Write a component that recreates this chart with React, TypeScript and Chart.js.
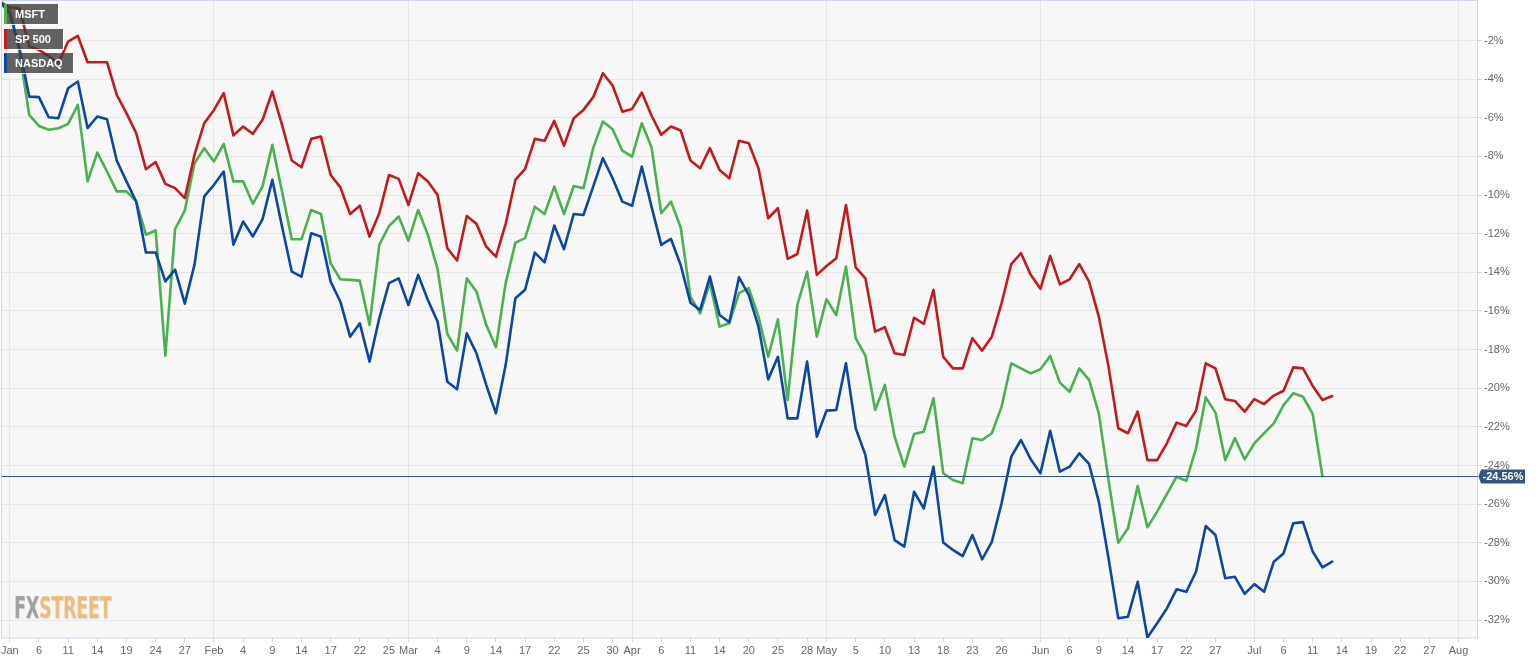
import React, { useEffect, useRef } from 'react';
import { Chart, registerables } from 'chart.js';

Chart.register(...registerables);

// Trading-day index: -1 = Dec 31 2021 (baseline 0%), 0 = Jan 3 2022, ...
const START_INDEX = -1;

const MSFT_VALUES = [
  0, -0.4, -2.6, -5.85, -6.42, -6.62, -6.54, -6.31, -5.33, -9.29, -7.8,
  -8.78, -9.81, -9.81, -10.33, -12.05, -11.83, -18.31, -11.76, -10.8, -8.35,
  -7.57, -8.26, -7.35, -9.29, -9.29, -10.45, -9.55, -7.4, -9.82, -12.29,
  -12.29, -10.77, -10.98, -13.53, -14.36, -14.39, -14.43, -16.72, -12.58, -11.6,
  -11.11, -12.36, -10.77, -12.06, -13.84, -17.19, -18.05, -14.31, -15.0, -16.72,
  -17.88, -14.56, -12.46, -12.23, -10.6, -10.98, -9.56, -10.98, -9.53, -9.65,
  -7.57, -6.19, -6.59, -7.7, -8.01, -6.28, -7.52, -10.94, -10.34, -11.68,
  -15.26, -16.12, -14.53, -16.81, -16.64, -15.08, -14.82, -16.29, -18.37, -16.43,
  -20.61, -15.69, -13.96, -17.33, -15.39, -16.21, -13.7, -17.41, -18.33, -21.13,
  -19.83, -22.51, -24.06, -22.37, -22.25, -20.52, -24.4, -24.75, -24.92, -22.59,
  -22.68, -22.33, -20.95, -18.71, -18.97, -19.23, -19.02, -18.33, -19.71, -20.18,
  -18.97, -19.57, -21.3, -24.75, -28.0, -27.25, -25.06, -27.2, -26.39, -25.48,
  -24.58, -24.79, -23.11, -20.47, -21.26, -23.72, -22.59, -23.68, -22.85, -22.33,
  -21.82, -20.87, -20.26, -20.44, -21.33, -24.56,
];

const SP500_VALUES = [
  0, -0.28, -0.33, -2.31, -2.48, -2.8, -3.17, -2.05, -1.76, -3.12, -3.12,
  -3.12, -4.81, -5.76, -6.79, -8.66, -8.29, -9.42, -9.64, -10.16, -7.91,
  -6.28, -5.59, -4.72, -6.91, -6.45, -6.83, -6.1, -4.64, -6.37, -8.21,
  -8.56, -7.09, -6.97, -8.96, -9.6, -10.98, -10.55, -12.15, -10.94, -8.96,
  -9.16, -10.51, -8.87, -9.3, -9.99, -12.75, -13.39, -11.08, -11.49, -12.67,
  -13.19, -11.49, -9.21, -8.64, -7.09, -7.19, -6.16, -7.44, -6.02, -5.59,
  -4.93, -3.69, -4.33, -5.68, -5.54, -4.69, -5.88, -6.88, -6.45, -6.66,
  -8.21, -8.61, -7.57, -8.7, -9.13, -7.19, -7.32, -8.61, -11.2, -10.68,
  -13.3, -13.05, -10.8, -14.13, -13.67, -13.27, -10.51, -13.74, -14.31, -17.07,
  -16.84, -18.19, -18.28, -16.35, -16.67, -14.91, -18.37, -18.97, -18.97, -17.41,
  -18.05, -17.33, -15.6, -13.57, -13.01, -14.13, -14.85, -13.15, -14.62, -14.36,
  -13.57, -14.48, -16.29, -18.88, -22.07, -22.33, -21.21, -23.72, -23.72, -22.85,
  -21.78, -21.95, -21.16, -18.71, -18.97, -20.57, -20.66, -21.21, -20.56, -20.82,
  -20.38, -20.13, -18.92, -18.97, -19.88, -20.61, -20.4,
];

const NASDAQ_VALUES = [
  0, -0.6, -2.4, -4.9, -4.93, -5.97, -6.02, -4.47, -4.12, -6.53, -5.93,
  -6.07, -8.21, -9.29, -10.33, -12.97, -12.97, -14.47, -13.86, -15.62, -13.6,
  -10.07, -9.47, -8.78, -12.57, -11.37, -12.14, -11.25, -9.21, -11.63, -13.96,
  -14.22, -11.98, -12.15, -14.48, -15.52, -17.33, -16.64, -18.62, -16.38, -14.56,
  -14.31, -15.69, -14.13, -15.43, -16.55, -19.66, -20.05, -17.16, -18.19, -19.83,
  -21.3, -18.8, -15.34, -14.9, -12.98, -13.48, -11.58, -12.8, -10.98, -11.03,
  -9.56, -8.09, -9.13, -10.34, -10.55, -8.52, -10.6, -12.58, -12.27, -13.62,
  -15.57, -15.95, -14.22, -16.21, -16.58, -14.26, -15.17, -16.81, -19.54, -18.37,
  -21.56, -21.56, -18.62, -22.51, -21.16, -21.13, -18.71, -22.07, -23.46, -26.56,
  -25.53, -27.86, -28.2, -25.36, -26.22, -24.06, -27.99, -28.37, -28.69, -27.6,
  -28.86, -27.95, -25.96, -23.54, -22.68, -23.68, -24.4, -22.2, -24.32, -24.06,
  -23.37, -23.92, -25.87, -28.8, -31.91, -31.83, -30.02, -32.9, -32.17, -31.4,
  -30.41, -30.54, -29.5, -27.13, -27.6, -29.84, -29.76, -30.65, -30.14, -30.54,
  -28.98, -28.55, -26.99, -26.93, -28.46, -29.27, -28.98,
];

// x tick labels: [trading-day index, label]
const X_TICKS: [number, string][] = [
  [0, 'Jan'], [3, '6'], [6, '11'], [9, '14'], [12, '19'], [15, '24'], [18, '27'],
  [21, 'Feb'], [24, '4'], [27, '9'], [30, '14'], [33, '17'], [36, '22'], [39, '25'],
  [41, 'Mar'], [44, '4'], [47, '9'], [50, '14'], [53, '17'], [56, '22'], [59, '25'], [62, '30'],
  [64, 'Apr'], [67, '6'], [70, '11'], [73, '14'], [76, '20'], [79, '25'], [82, '28'],
  [84, 'May'], [87, '5'], [90, '10'], [93, '13'], [96, '18'], [99, '23'], [102, '26'],
  [106, 'Jun'], [109, '6'], [112, '9'], [115, '14'], [118, '17'], [121, '22'], [124, '27'],
  [128, 'Jul'], [131, '6'], [134, '11'], [137, '14'], [140, '19'], [143, '22'], [146, '27'],
  [149, 'Aug'],
];
const MONTHS = ['Jan', 'Feb', 'Mar', 'Apr', 'May', 'Jun', 'Jul', 'Aug'];

const Y_TICKS = [-2, -4, -6, -8, -10, -12, -14, -16, -18, -20, -22, -24, -26, -28, -30, -32];

const X_MIN = -0.8;
const X_MAX = 151;
const Y_MIN = -32.93;
const Y_MAX = 0.1;

const GREEN = '#4caf50';
const RED = '#c21a1f';
const BLUE = '#0d47a1';
const NAVY = '#34557f';
const FONT = "'Liberation Sans', Arial, sans-serif";

const SERIES = [
  { name: 'MSFT', color: GREEN, values: MSFT_VALUES, order: 2 },
  { name: 'SP 500', color: RED, values: SP500_VALUES, order: 1 },
  { name: 'NASDAQ', color: BLUE, values: NASDAQ_VALUES, order: 0 },
];

const LAST_MSFT = MSFT_VALUES[MSFT_VALUES.length - 1];

const labelMap = new Map<number, string>(X_TICKS);
const monthIdx = new Set<number>(X_TICKS.filter(([, l]) => MONTHS.includes(l)).map(([v]) => v));

const framePlugin = {
  id: 'frame',
  beforeDraw(chart: any) {
    const { ctx, chartArea } = chart;
    const { left, top, right, bottom } = chartArea;
    ctx.save();
    ctx.fillStyle = '#ffffff';
    ctx.fillRect(0, 0, chart.width, chart.height);
    ctx.fillStyle = '#f7f7f7';
    ctx.fillRect(left, top, right - left, bottom - top);
    ctx.restore();
  },
  beforeDatasetsDraw(chart: any) {
    const { ctx, chartArea } = chart;
    const { left, top, right, bottom } = chartArea;
    ctx.save();
    ctx.strokeStyle = '#ccd6eb';
    ctx.lineWidth = 1;
    ctx.strokeRect(Math.round(left) - 0.5, Math.round(top) + 0.5, Math.round(right - left), Math.round(bottom - top) - 0.5);
    ctx.restore();
  },
  afterDraw(chart: any) {
    const { ctx, chartArea } = chart;
    const y = Math.round(chart.scales.y.getPixelForValue(LAST_MSFT)) + 0.5;
    ctx.save();
    ctx.strokeStyle = NAVY;
    ctx.lineWidth = 1;
    ctx.beginPath();
    ctx.moveTo(chartArea.left, y);
    ctx.lineTo(chartArea.right, y);
    ctx.stroke();
    const x0 = chartArea.right;
    ctx.fillStyle = NAVY;
    ctx.beginPath();
    ctx.moveTo(x0 + 0.5, y);
    ctx.lineTo(x0 + 3, y - 7);
    ctx.lineTo(x0 + 47, y - 7);
    ctx.lineTo(x0 + 47, y + 7);
    ctx.lineTo(x0 + 3, y + 7);
    ctx.closePath();
    ctx.fill();
    ctx.fillStyle = '#ffffff';
    ctx.font = `bold 11px ${FONT}`;
    ctx.textAlign = 'center';
    ctx.textBaseline = 'middle';
    ctx.fillText(`${LAST_MSFT.toFixed(2)}%`, x0 + 25, y + 0.5);
    ctx.restore();
  },
};

export default function App() {
  const canvasRef = useRef<HTMLCanvasElement>(null);
  const wmRef = useRef<HTMLDivElement>(null);

  useEffect(() => {
    document.body.style.margin = '0';
    if (wmRef.current) {
      const w = wmRef.current.offsetWidth;
      if (w > 0) wmRef.current.style.transform = `scaleX(${97 / w})`;
    }
    const canvas = canvasRef.current;
    if (!canvas) return;
    const chart = new Chart(canvas, {
      type: 'line',
      data: {
        datasets: SERIES.map((s) => ({
          label: s.name,
          data: s.values.map((y, i) => ({ x: START_INDEX + i, y })),
          borderColor: s.color,
          backgroundColor: s.color,
          borderWidth: 2.6,
          pointRadius: 0,
          pointHoverRadius: 0,
          tension: 0,
          fill: false,
          order: s.order,
          borderJoinStyle: 'round' as const,
          borderCapStyle: 'round' as const,
        })),
      },
      options: {
        responsive: false,
        animation: false,
        devicePixelRatio: 1,
        layout: { padding: { left: 2, top: 0, right: 0, bottom: 0 } },
        plugins: { legend: { display: false }, tooltip: { enabled: false } },
        scales: {
          x: {
            type: 'linear',
            min: X_MIN,
            max: X_MAX,
            afterBuildTicks: (scale: any) => {
              scale.ticks = X_TICKS.map(([v]) => ({ value: v }));
            },
            afterFit: (scale: any) => {
              scale.height = 24;
              scale.paddingLeft = 0;
              scale.paddingRight = 0;
              scale.paddingTop = 0;
              scale.paddingBottom = 0;
            },
            ticks: {
              autoSkip: false,
              maxRotation: 0,
              minRotation: 0,
              padding: 2,
              color: '#666666',
              font: { family: FONT, size: 11 },
              callback: (v: any) => labelMap.get(Number(v)) ?? '',
            },
            grid: {
              color: (ctx: any) => (ctx.tick && monthIdx.has(ctx.tick.value) ? '#e6e6e6' : 'rgba(0,0,0,0)'),
              tickColor: '#ccd6eb',
              tickLength: 4,
              lineWidth: 1,
            },
            border: { display: false },
          },
          y: {
            type: 'linear',
            position: 'right',
            min: Y_MIN,
            max: Y_MAX,
            afterBuildTicks: (scale: any) => {
              scale.ticks = Y_TICKS.map((v) => ({ value: v }));
            },
            afterFit: (scale: any) => {
              scale.width = 58;
              scale.paddingTop = 0;
              scale.paddingBottom = 0;
              scale.paddingLeft = 0;
              scale.paddingRight = 0;
            },
            ticks: {
              padding: 2,
              color: '#666666',
              font: { family: FONT, size: 11 },
              callback: (v: any) => `${v}%`,
            },
            grid: {
              color: '#e6e6e6',
              tickColor: '#ccd6eb',
              tickLength: 4,
              lineWidth: 1,
            },
            border: { display: false },
          },
        },
      },
      plugins: [framePlugin],
    });
    return () => chart.destroy();
  }, []);

  const boxWidths = [54, 59, 69];

  return (
    <div style={{ position: 'relative', width: 1536, height: 662, overflow: 'hidden' }}>
      <canvas ref={canvasRef} width={1536} height={662} style={{ display: 'block', width: 1536, height: 662 }} />
      {SERIES.map((s, i) => (
        <div
          key={s.name}
          style={{
            position: 'absolute',
            left: 4,
            top: 4 + i * 24.5,
            width: boxWidths[i],
            height: 20,
            boxSizing: 'border-box',
            background: 'rgba(60,60,60,0.8)',
            borderLeft: `3px solid ${s.color}`,
            boxShadow: '1px 1px 0 rgba(255,255,255,0.8)',
            color: '#ffffff',
            fontFamily: FONT,
            fontWeight: 'bold',
            fontSize: 11,
            lineHeight: '20px',
            paddingLeft: 8,
            whiteSpace: 'nowrap',
          }}
        >
          {s.name}
        </div>
      ))}
      <div
        ref={wmRef}
        style={{
          position: 'absolute',
          left: 14,
          top: 591,
          transformOrigin: '0 0',
          fontFamily: "'Liberation Sans Narrow', 'DejaVu Sans Condensed', 'Liberation Sans', Arial, sans-serif",
          fontWeight: 'bold',
          fontSize: 30,
          lineHeight: '34px',
          whiteSpace: 'nowrap',
          textShadow: '1px 1px 1px rgba(0,0,0,0.12)',
          letterSpacing: -0.5,
        }}
      >
        <span style={{ color: 'rgba(150,150,150,0.85)' }}>FX</span>
        <span style={{ color: 'rgba(240,180,100,0.8)' }}>STREET</span>
      </div>
    </div>
  );
}
